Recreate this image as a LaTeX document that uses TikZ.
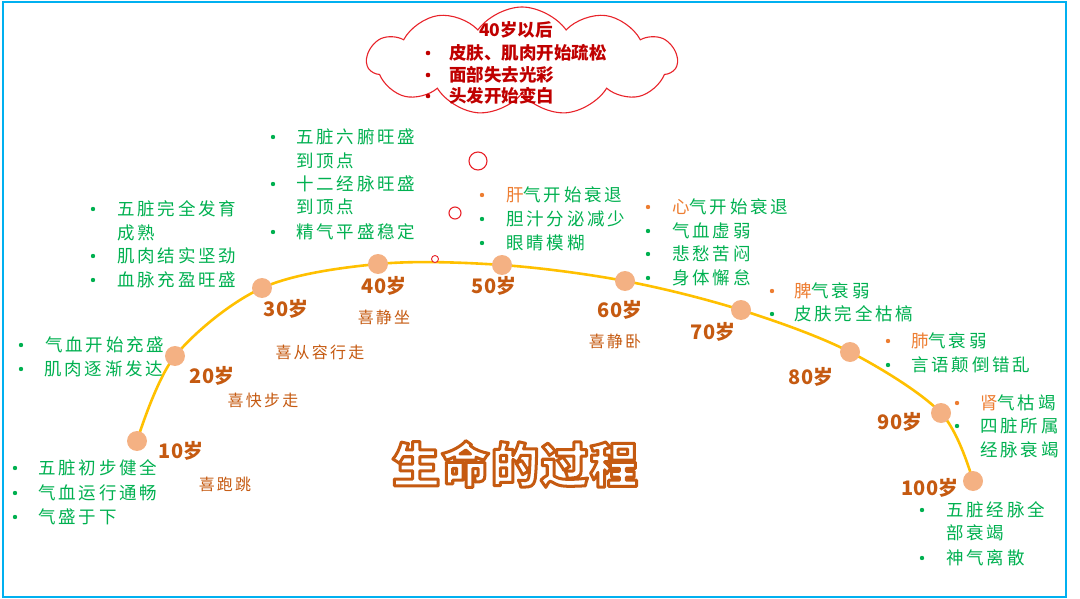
\documentclass[tikz,border=0pt]{standalone}
\usepackage{fontspec}
\usetikzlibrary{shapes.symbols}
\newfontfamily\cjk{Noto Sans CJK SC}
\newfontfamily\cjkg{Noto Sans CJK SC}[LetterSpace=16]
\newfontfamily\cjkh{Noto Sans CJK SC}[LetterSpace=14]
\newfontfamily\cjkt{Noto Sans CJK SC}[LetterSpace=3]
\newcommand{\outlinedtext}[1]{\special{pdf:literal direct 2 Tr 3 w 1 j 1 1 1 rg}#1\special{pdf:literal direct 0 Tr 0.4 w 0 j}}
\definecolor{lgreen}{HTML}{00B050}
\definecolor{orgA}{HTML}{ED7D31}
\definecolor{ageb}{HTML}{C55A11}
\definecolor{dotc}{HTML}{F4B183}
\definecolor{arcc}{HTML}{FFC000}
\definecolor{cloudr}{HTML}{E8232A}
\definecolor{dred}{HTML}{C00000}
\definecolor{frame}{HTML}{00B0F0}
\begin{document}
\begin{tikzpicture}[x=1pt,y=-1pt,
  frm/.style={draw=frame, line width=2pt},
  arcline/.style={draw=arcc, line width=2.6pt},
  dot/.style={circle, fill=dotc, inner sep=0pt, minimum size=20pt},
  gtxt/.style={anchor=west, inner sep=0pt, text=lgreen, font=\cjkg\fontsize{17.5}{20}\selectfont},
  gb/.style={circle, fill=lgreen, inner sep=0pt, minimum size=4.4pt},
  ob/.style={circle, fill=orgA, inner sep=0pt, minimum size=4.4pt},
  rb/.style={circle, fill=dred, inner sep=0pt, minimum size=4.6pt},
  age/.style={inner sep=0pt, text=ageb, font=\cjk\bfseries\fontsize{20}{22}\selectfont},
  hobby/.style={inner sep=0pt, text=ageb, font=\cjkh\fontsize{16}{18}\selectfont},
  ctxt/.style={anchor=west, inner sep=0pt, text=dred, font=\cjk\bfseries\fontsize{17.5}{20}\selectfont},
  bubble/.style={draw=cloudr, fill=white, line width=1.1pt, circle, inner sep=0pt},
  titlef/.style={inner sep=0pt, font=\cjkt\bfseries\fontsize{48}{52}\selectfont}
]
\useasboundingbox (0,0) rectangle (1080,599);
\draw[frm] (3,2) rectangle (1066,597);

% cloud
\node[cloud, draw=cloudr, fill=white, line width=1.1pt, cloud puffs=11, cloud puff arc=110, aspect=2.85, minimum width=310pt, minimum height=108pt] (cloud) at (522,61) {};
\node[ctxt, anchor=center] (c0) at (516,30) {40岁以后};
\node[rb] (cb1) at (428,53) {}; \node[ctxt] (c1) at (449,53) {皮肤、肌肉开始疏松};
\node[rb] (cb2) at (428,75) {}; \node[ctxt] (c2) at (449,75) {面部失去光彩};
\node[rb] (cb3) at (428,96) {}; \node[ctxt] (c3) at (449,96) {头发开始变白};

% thought bubbles
\node[bubble, minimum size=18pt] (bb1) at (478,161) {};
\node[bubble, minimum size=12pt] (bb2) at (455,213) {};

% arc
\coordinate (c10) at (137,441);
\coordinate (c20) at (175,356);
\coordinate (c30) at (262,288);
\coordinate (c40) at (378,264);
\coordinate (c50) at (502,265);
\coordinate (c60) at (625,281);
\coordinate (c70) at (741,310);
\coordinate (c80) at (850,352);
\coordinate (c90) at (941,413);
\coordinate (c100) at (973,481);
\draw[arcline] plot[smooth, tension=0.55] coordinates {(c10) (c20) (c30) (c40) (c50) (c60) (c70) (c80) (c90) (c100)};
\foreach \n in {10,20,30,40,50,60,70,80,90,100} \node[dot] (d\n) at (c\n) {};
\node[bubble, minimum size=7pt, line width=0.9pt] (bb3) at (435,259) {};

% age labels
\node[age] (a10) at (181,451) {10岁};
\node[age] (a20) at (212,376) {20岁};
\node[age] (a30) at (286,309) {30岁};
\node[age] (a40) at (384,286) {40岁};
\node[age] (a50) at (494,286) {50岁};
\node[age] (a60) at (620,310) {60岁};
\node[age] (a70) at (713,332) {70岁};
\node[age] (a80) at (811,377) {80岁};
\node[age] (a90) at (900,422) {90岁};
\node[age] (a100) at (930,488) {100岁};

% hobbies
\node[hobby] (h10) at (225,484) {喜跑跳};
\node[hobby] (h20) at (263,400) {喜快步走};
\node[hobby] (h30) at (320,352) {喜从容行走};
\node[hobby] (h40) at (384,317) {喜静坐};
\node[hobby] (h60) at (615,341) {喜静卧};

% group 10
\node[gb] (b10a) at (15,468) {}; \node[gtxt] (t10a) at (38,468) {五脏初步健全};
\node[gb] (b10b) at (15,493) {}; \node[gtxt] (t10b) at (38,493) {气血运行通畅};
\node[gb] (b10c) at (15,517) {}; \node[gtxt] (t10c) at (38,517) {气盛于下};
% group 20
\node[gb] (b20a) at (21,345) {}; \node[gtxt] (t20a) at (45,345) {气血开始充盛};
\node[gb] (b20b) at (21,369) {}; \node[gtxt] (t20b) at (44,369) {肌肉逐渐发达};
% group 30
\node[gb] (b30a) at (93,209) {}; \node[gtxt] (t30a) at (117,209) {五脏完全发育};
\node[gtxt] (t30b) at (117,233) {成熟};
\node[gb] (b30c) at (93,256) {}; \node[gtxt] (t30c) at (117,256) {肌肉结实坚劲};
\node[gb] (b30d) at (93,280) {}; \node[gtxt] (t30d) at (117,280) {血脉充盈旺盛};
% group 40
\node[gb] (b40a) at (273,137) {}; \node[gtxt] (t40a) at (296,137) {五脏六腑旺盛};
\node[gtxt] (t40b) at (296,161) {到顶点};
\node[gb] (b40c) at (273,184) {}; \node[gtxt] (t40c) at (296,184) {十二经脉旺盛};
\node[gtxt] (t40d) at (296,207) {到顶点};
\node[gb] (b40e) at (273,232) {}; \node[gtxt] (t40e) at (296,232) {精气平盛稳定};
% group 50
\node[ob] (b50a) at (482,195) {}; \node[gtxt] (t50a) at (506,195) {{\color{orgA}肝}气开始衰退};
\node[gb] (b50b) at (482,219) {}; \node[gtxt] (t50b) at (506,219) {胆汁分泌减少};
\node[gb] (b50c) at (482,243) {}; \node[gtxt] (t50c) at (506,243) {眼睛模糊};
% group 60
\node[ob] (b60a) at (648,207) {}; \node[gtxt] (t60a) at (672,207) {{\color{orgA}心}气开始衰退};
\node[gb] (b60b) at (648,231) {}; \node[gtxt] (t60b) at (672,231) {气血虚弱};
\node[gb] (b60c) at (648,254) {}; \node[gtxt] (t60c) at (672,254) {悲愁苦闷};
\node[gb] (b60d) at (648,278) {}; \node[gtxt] (t60d) at (672,278) {身体懈怠};
% group 70
\node[ob] (b70a) at (772,291) {}; \node[gtxt] (t70a) at (794,291) {{\color{orgA}脾}气衰弱};
\node[gb] (b70b) at (772,314) {}; \node[gtxt] (t70b) at (794,314) {皮肤完全枯槁};
% group 80
\node[ob] (b80a) at (888,341) {}; \node[gtxt] (t80a) at (911,341) {{\color{orgA}肺}气衰弱};
\node[gb] (b80b) at (888,365) {}; \node[gtxt] (t80b) at (911,365) {言语颠倒错乱};
% group 90
\node[ob] (b90a) at (957,403) {}; \node[gtxt] (t90a) at (980,403) {{\color{orgA}肾}气枯竭};
\node[gb] (b90b) at (957,426) {}; \node[gtxt] (t90b) at (980,426) {四脏所属};
\node[gtxt] (t90c) at (980,450) {经脉衰竭};
% group 100
\node[gb] (b100a) at (922,510) {}; \node[gtxt] (t100a) at (946,510) {五脏经脉全};
\node[gtxt] (t100b) at (946,533) {部衰竭};
\node[gb] (b100c) at (922,558) {}; \node[gtxt] (t100c) at (946,558) {神气离散};

% title with outline (fill white, stroke brown)
\node[titlef, text=ageb] (title) at (515,464) {\outlinedtext{生命的过程}};
\end{tikzpicture}
\end{document}
